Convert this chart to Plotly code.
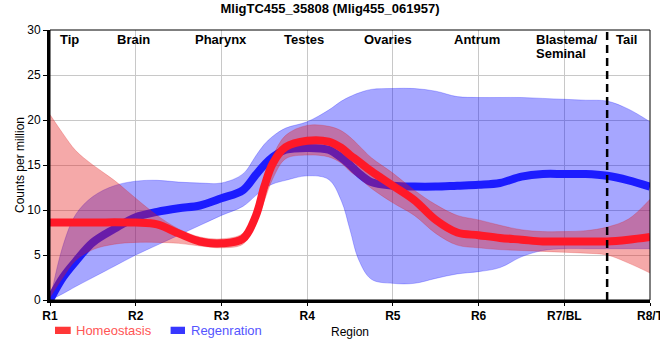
import plotly.graph_objects as go

# ---- data ----
pos = [0, 0.15, 0.3, 0.5, 0.75, 1, 1.25, 1.5, 1.75, 2, 2.25, 2.4, 2.5, 2.6, 2.75,
       3, 3.25, 3.4, 3.5, 3.6, 3.75, 4, 4.25, 4.5, 4.75, 5, 5.25, 5.5, 5.75,
       6, 6.25, 6.5, 6.75, 7]

homeo_mean = [8.6, 8.6, 8.6, 8.6, 8.65, 8.6, 8.4, 7.4, 6.5, 6.3, 6.8, 9.3, 12.6, 15.2, 17.0,
              17.7, 17.6, 16.9, 16.1, 15.4, 14.3, 12.7, 11.1, 8.9, 7.5, 7.2, 6.9, 6.7, 6.5,
              6.5, 6.5, 6.5, 6.7, 7.0]
homeo_upper = [20.6, 18.5, 16.6, 15.0, 13.3, 11.3, 9.4, 7.9, 7.0, 6.8, 7.4, 10.0, 13.5, 16.0, 18.3,
               19.4, 19.3, 18.8, 18.1, 17.2, 15.8, 14.1, 12.2, 10.6, 9.4, 8.9, 8.3, 7.8, 7.6,
               7.6, 7.7, 8.1, 9.0, 11.2]
homeo_lower = [0.3, 2.5, 4.4, 5.6, 6.2, 6.4, 6.4, 6.3, 6.0, 5.8, 6.2, 8.5, 11.0, 13.5, 15.7,
               16.1, 15.9, 15.2, 14.3, 13.6, 12.4, 10.8, 9.4, 7.4, 6.1, 5.8, 5.6, 5.5, 5.4,
               5.3, 5.2, 5.0, 4.1, 3.0]

regen_mean = [0.0, 2.5, 4.3, 6.4, 7.9, 9.2, 9.8, 10.2, 10.5, 11.3, 12.2, 13.9, 15.0, 15.9, 16.7,
              16.9, 16.7, 15.8, 15.0, 14.1, 13.1, 12.7, 12.6, 12.6, 12.7, 12.8, 13.0, 13.7, 14.0,
              14.0, 14.0, 13.8, 13.3, 12.6]
regen_upper = [0.0, 6.0, 9.5, 11.5, 12.7, 13.2, 13.3, 13.1, 13.0, 13.0, 14.0, 16.0, 17.3, 18.2, 19.1,
               19.8, 21.1, 22.1, 22.6, 23.0, 23.4, 23.5, 23.5, 23.2, 22.6, 22.5, 22.5, 22.5, 22.4,
               22.3, 22.2, 22.1, 21.2, 19.8]
regen_lower = [0.0, 0.7, 1.5, 2.5, 3.75, 5.0, 6.1, 7.2, 8.3, 9.4, 10.4, 11.6, 12.4, 12.9, 13.3,
               13.8, 13.4, 11.0, 7.8, 4.5, 2.3, 1.85, 1.85, 2.4, 2.9, 3.15, 3.6, 4.8, 5.5,
               5.7, 5.7, 5.7, 5.7, 5.7]

region_ticks = ["R1", "R2", "R3", "R4", "R5", "R6", "R7/BL", "R8/T"]
tissue_names = ["Tip", "Brain", "Pharynx", "Testes", "Ovaries", "Antrum", "Tail"]
tissue_pos = [0.23, 0.97, 1.99, 2.96, 3.94, 4.98, 6.73]
blastema_lines = ["Blastema/", "Seminal"]
blastema_pos = 5.65
tail_boundary = 6.5
series_names = ["Homeostasis", "Regenration"]

FONT = "Arial, Liberation Sans, sans-serif"
RED = "rgb(255,25,40)"
BLUE = "rgb(28,28,255)"
RED_FILL = "rgba(230,30,30,0.38)"
BLUE_FILL = "rgba(0,0,255,0.35)"

fig = go.Figure()

# Regeneration band + line
fig.add_trace(go.Scatter(x=pos, y=regen_lower, mode="lines", line=dict(color="rgba(0,0,255,0.3)", width=0.8, shape="spline"),
                         showlegend=False, hoverinfo="skip"))
fig.add_trace(go.Scatter(x=pos, y=regen_upper, mode="lines", line=dict(color="rgba(0,0,255,0.3)", width=0.8, shape="spline"),
                         fill="tonexty", fillcolor=BLUE_FILL, showlegend=False, hoverinfo="skip"))
fig.add_trace(go.Scatter(x=pos, y=regen_mean, mode="lines", line=dict(color=BLUE, width=8, shape="spline"),
                         name=series_names[1], showlegend=False))

# Homeostasis band + line
fig.add_trace(go.Scatter(x=pos, y=homeo_lower, mode="lines", line=dict(color="rgba(220,30,30,0.3)", width=0.8, shape="spline"),
                         showlegend=False, hoverinfo="skip"))
fig.add_trace(go.Scatter(x=pos, y=homeo_upper, mode="lines", line=dict(color="rgba(220,30,30,0.3)", width=0.8, shape="spline"),
                         fill="tonexty", fillcolor=RED_FILL, showlegend=False, hoverinfo="skip"))
fig.add_trace(go.Scatter(x=pos, y=homeo_mean, mode="lines", line=dict(color=RED, width=8, shape="spline"),
                         name=series_names[0], showlegend=False))

# tissue labels
for name, p in zip(tissue_names, tissue_pos):
    fig.add_annotation(x=p, y=28.95, xref="x", yref="y", text="<b>%s</b>" % name, showarrow=False,
                       font=dict(family=FONT, size=13, color="black"), xanchor="center", yanchor="middle")
for i, line in enumerate(blastema_lines):
    fig.add_annotation(x=blastema_pos, y=28.95 - 1.6 * i, xref="x", yref="y", text="<b>%s</b>" % line, showarrow=False,
                       font=dict(family=FONT, size=13, color="black"), xanchor="left", yanchor="middle")

# boundary dashed line
fig.add_shape(type="line", x0=tail_boundary, x1=tail_boundary, y0=0, y1=30, xref="x", yref="y",
              line=dict(color="black", width=2.5, dash="8px,5px"), layer="above")
# thin frame
fig.add_shape(type="rect", x0=0, x1=1, y0=0, y1=1, xref="paper", yref="paper",
              line=dict(color="black", width=1), layer="above")

# legend (swatch + coloured label), below the plot
legend_items = [
    (series_names[0], "rgb(255,55,55)", "rgb(255,85,85)", 0.0083, 0.0345, 0.040),
    (series_names[1], "rgb(55,55,255)", "rgb(85,85,255)", 0.2010, 0.2250, 0.232),
]
for label, sw, tc, sx0, sx1, tx in legend_items:
    fig.add_shape(type="rect", xref="paper", yref="paper", x0=sx0, x1=sx1, y0=-0.126, y1=-0.099,
                  line=dict(width=0), fillcolor=sw)
    fig.add_annotation(xref="paper", yref="paper", x=tx, y=-0.113, xanchor="left", yanchor="middle",
                       text=label, showarrow=False, font=dict(family=FONT, size=13, color=tc))

fig.update_layout(
    template="none",
    width=660, height=360,
    margin=dict(l=50, r=10, t=30, b=60),
    paper_bgcolor="white", plot_bgcolor="white",
    font=dict(family=FONT, size=12, color="black"),
    title=dict(text="<b>MligTC455_35808 (Mlig455_061957)</b>", x=0.5, xanchor="center",
               y=1 - 8 / 360, yanchor="middle", font=dict(family=FONT, size=13, color="black")),
    showlegend=False,
)
fig.update_xaxes(range=[0, 7], tickvals=list(range(8)), ticktext=region_ticks, showgrid=True,
                 gridcolor="#c8c8c8", gridwidth=1, zeroline=False, showline=True, linecolor="black",
                 linewidth=3, ticks="outside", ticklen=3, tickcolor="black", automargin=False,
                 ticklabeloverflow="allow",
                 tickfont=dict(family=FONT, size=12, color="black", weight="bold"),
                 title=dict(text="Region", font=dict(family=FONT, size=12), standoff=6))
fig.update_yaxes(range=[0, 30], tickvals=[0, 5, 10, 15, 20, 25, 30], showgrid=True,
                 gridcolor="#c8c8c8", gridwidth=1, zeroline=False, showline=True, linecolor="black",
                 linewidth=3, ticks="outside", ticklen=4, tickcolor="black", automargin=False,
                 tickfont=dict(family=FONT, size=12, color="black"),
                 title=dict(text="Counts per million", font=dict(family=FONT, size=12), standoff=1))

fig.write_html("out.html", config={"displayModeBar": False},
               post_script="document.body.style.margin='0';document.body.style.overflow='hidden';")
